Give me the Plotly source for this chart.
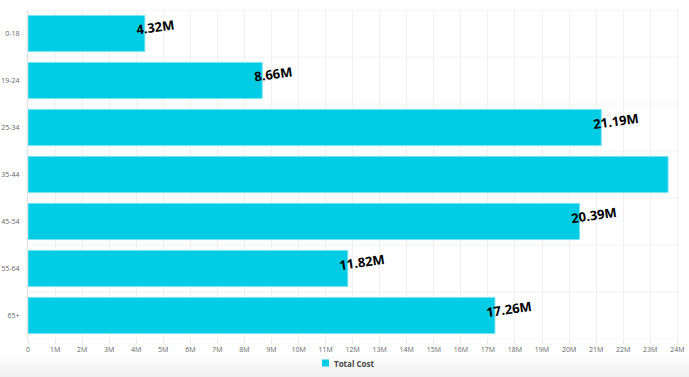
import plotly.graph_objects as go

categories = ["0-18", "19-24", "25-34", "35-44", "45-54", "55-64", "65+"]
values = [4.32e6, 8.66e6, 21.19e6, 23.66e6, 20.39e6, 11.82e6, 17.26e6]
labels = ["4.32M", "8.66M", "21.19M", "", "20.39M", "11.82M", "17.26M"]
series_name = "Total Cost"
tick_vals = [i * 1e6 for i in range(25)]
tick_text = ["0"] + [f"{i}M" for i in range(1, 25)]

BAR_COLOR = "#00CCE6"
L, R, T, B, W, H = 28, 9, 10, 38, 689, 377
PW, PH = W - L - R, H - T - B


def px_x(px):
    return (px - L) / PW


def px_y(py):
    return (H - B - py) / PH


fig = go.Figure()
fig.add_trace(go.Bar(
    y=categories, x=values, orientation="h", name=series_name,
    marker=dict(color=BAR_COLOR, line=dict(color="#7FE3F0", width=1)),
    showlegend=False,
))

for c, v, t in zip(categories, values, labels):
    if t:
        fig.add_annotation(x=v, y=c, xref="x", yref="y", text=f"<b>{t}</b>",
                           showarrow=False, xanchor="left", yanchor="middle",
                           xshift=-12, yshift=7, textangle=-8,
                           font=dict(family="Open Sans", size=13, color="#000000"))

# legend (square swatch + label)
fig.add_shape(type="rect", xref="paper", yref="paper",
              x0=px_x(322), x1=px_x(329), y0=px_y(366.5), y1=px_y(359.5),
              line=dict(width=0), fillcolor=BAR_COLOR)
fig.add_annotation(x=px_x(332), y=px_y(363), xref="paper", yref="paper",
                   text=f"<b>{series_name}</b>", showarrow=False,
                   xanchor="left", yanchor="middle",
                   font=dict(family="Open Sans", size=8, color="#444444"))

fig.update_layout(
    width=W, height=H,
    margin=dict(l=L, r=R, t=T, b=B, autoexpand=False),
    paper_bgcolor="white", plot_bgcolor="white",
    font=dict(family="Open Sans", size=7, color="#666666"),
    bargap=0.23,
    showlegend=False,
    xaxis=dict(range=[0, 24.1e6], tickvals=tick_vals, ticktext=tick_text,
               showgrid=True, gridcolor="#F0F0F0", gridwidth=1, zeroline=False,
               ticks="outside", ticklen=4, tickcolor="#E6E6E6", automargin=False,
               tickfont=dict(size=7, color="#666666"), fixedrange=True),
    yaxis=dict(range=[len(categories) - 0.5, -0.5], showgrid=False, showline=True,
               linecolor="#E0E0E0", categoryorder="array", categoryarray=categories,
               ticks="", tickfont=dict(size=7, color="#666666"), ticklabelstandoff=6,
               automargin=False),
)

# horizontal grid lines between categories
for i in range(len(categories) + 1):
    fig.add_shape(type="line", xref="paper", yref="y", x0=0, x1=1,
                  y0=i - 0.5, y1=i - 0.5, line=dict(color="#F2F2F2", width=1), layer="below")

# light gray gradient band at the bottom of the page
steps = 11
for k in range(steps):
    y_top_px = 355 + k * 2
    y_bot_px = y_top_px + 2
    g = int(255 - (k + 1) * 1.3)
    fig.add_shape(type="rect", xref="paper", yref="paper",
                  x0=px_x(0), x1=px_x(W),
                  y0=px_y(y_bot_px), y1=px_y(y_top_px),
                  line=dict(width=0), fillcolor=f"rgb({g},{g},{g})", layer="below")

fig.write_html("out.html", config={"displayModeBar": False},
               post_script="document.body.style.margin='0';document.body.style.overflow='hidden';")
